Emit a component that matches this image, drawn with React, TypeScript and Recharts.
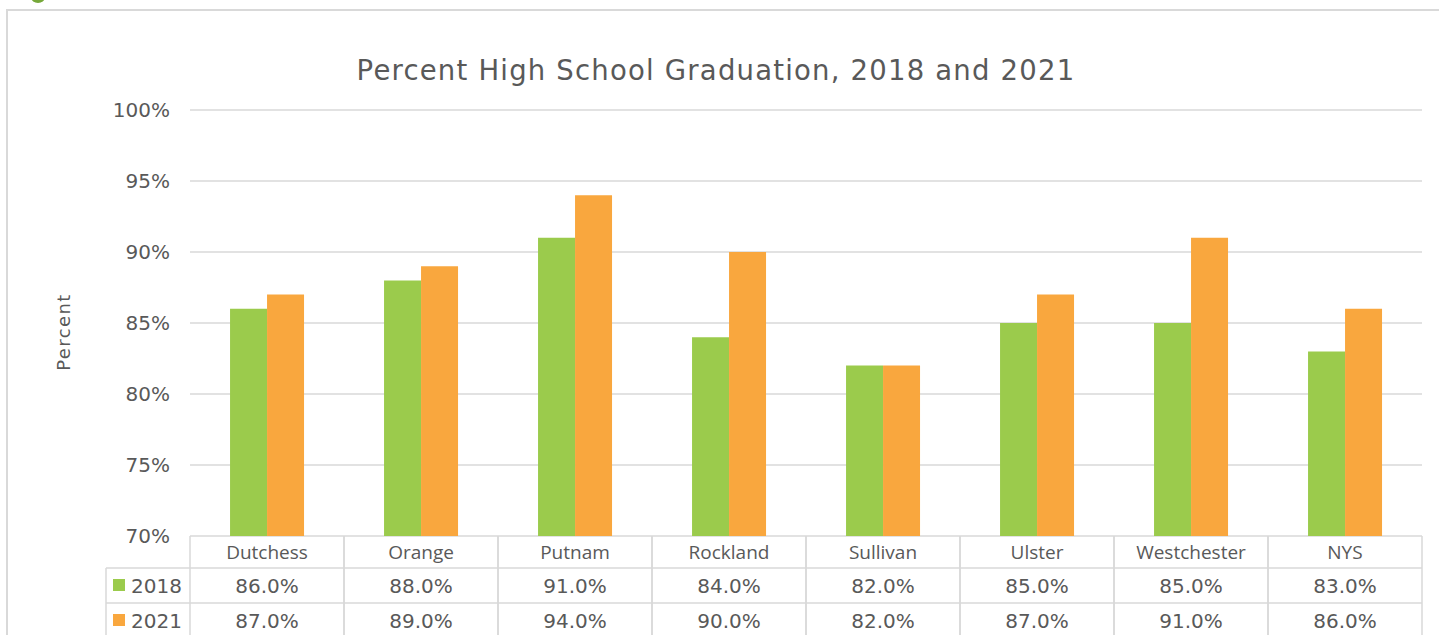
import React from 'react';
import { BarChart, Bar, XAxis, YAxis, CartesianGrid } from 'recharts';

const categories = ['Dutchess', 'Orange', 'Putnam', 'Rockland', 'Sullivan', 'Ulster', 'Westchester', 'NYS'];
const values2018 = [86, 88, 91, 84, 82, 85, 85, 83];
const values2021 = [87, 89, 94, 90, 82, 87, 91, 86];
const yTicks = [70, 75, 80, 85, 90, 95, 100];
const seriesNames = ['2018', '2021'];

const data = categories.map((c, i) => ({ name: c, v2018: values2018[i], v2021: values2021[i] }));

const W = 1439;
const H = 635;
const LEFT = 190;
const RIGHT = 17;
const TOP = 110;
const XAXIS_H = 99;
const PLOT_BOTTOM = H - XAXIS_H;
const BAND = (W - LEFT - RIGHT) / categories.length;
const ROW1 = PLOT_BOTTOM + 32;
const ROW2 = PLOT_BOTTOM + 67;
const LEGEND_LEFT = 106;

const GREEN = '#9BCB4C';
const ORANGE = '#F9A73E';
const TEXT = '#595959';
const GRID = '#d9d9d9';
const FONT = 'Open Sans, sans-serif';
const NUMFONT = 'DejaVu Sans, sans-serif';

const TableTick = (props: any) => {
  const { x, index, payload } = props;
  const l = x - BAND / 2;
  const r = x + BAND / 2;
  return (
    <g>
      <line x1={l} x2={l} y1={PLOT_BOTTOM} y2={H} stroke={GRID} strokeWidth={1.5} />
      <line x1={r} x2={r} y1={PLOT_BOTTOM} y2={H} stroke={GRID} strokeWidth={1.5} />
      <line x1={l} x2={r} y1={ROW1} y2={ROW1} stroke={GRID} strokeWidth={1.5} />
      <line x1={l} x2={r} y1={ROW2} y2={ROW2} stroke={GRID} strokeWidth={1.5} />
      <text x={x} y={PLOT_BOTTOM + 23} textAnchor="middle" fontSize={19} fill={TEXT} fontFamily={FONT}>
        {payload.value}
      </text>
      <text x={x} y={ROW1 + 25} textAnchor="middle" fontSize={20} fill={TEXT} fontFamily={NUMFONT}>
        {values2018[index].toFixed(1) + '%'}
      </text>
      <text x={x} y={ROW2 + 25} textAnchor="middle" fontSize={20} fill={TEXT} fontFamily={NUMFONT}>
        {values2021[index].toFixed(1) + '%'}
      </text>
      {index === 0 && (
        <g>
          <line x1={LEGEND_LEFT} x2={l} y1={ROW1} y2={ROW1} stroke={GRID} strokeWidth={1.5} />
          <line x1={LEGEND_LEFT} x2={l} y1={ROW2} y2={ROW2} stroke={GRID} strokeWidth={1.5} />
          <line x1={LEGEND_LEFT} x2={LEGEND_LEFT} y1={ROW1} y2={H} stroke={GRID} strokeWidth={1.5} />
          <rect x={LEGEND_LEFT + 7} y={ROW1 + 11} width={12} height={12} fill={GREEN} />
          <text x={LEGEND_LEFT + 25} y={ROW1 + 25} fontSize={20} fill={TEXT} fontFamily={NUMFONT}>{seriesNames[0]}</text>
          <rect x={LEGEND_LEFT + 7} y={ROW2 + 11} width={12} height={12} fill={ORANGE} />
          <text x={LEGEND_LEFT + 25} y={ROW2 + 25} fontSize={20} fill={TEXT} fontFamily={NUMFONT}>{seriesNames[1]}</text>
        </g>
      )}
    </g>
  );
};

export default function App() {
  return (
    <div style={{ position: 'absolute', left: 0, top: 0, width: W, height: H, background: '#fff', overflow: 'hidden' }}>
      <svg style={{ position: 'absolute', left: 0, top: 0 }} width={W} height={H}>
        <ellipse cx={38} cy={-3} rx={7} ry={6} fill="#76A83A" />
        <rect x={7} y={10} width={W} height={H} fill="none" stroke={GRID} strokeWidth={2} />
        <text x={716} y={80} textAnchor="middle" fontSize={27.5} letterSpacing={1.2} fill={TEXT} fontFamily={NUMFONT}>
          Percent High School Graduation, 2018 and 2021
        </text>
        <text x={0} y={0} transform="translate(70,332) rotate(-90)" textAnchor="middle" fontSize={18} letterSpacing={1.4} fill={TEXT} fontFamily={NUMFONT}>
          Percent
        </text>
      </svg>
      <div style={{ position: 'absolute', left: 0, top: 0 }}>
        <BarChart width={W} height={H} data={data} margin={{ top: TOP, right: RIGHT, bottom: 0, left: 0 }} barCategoryGap="26%" barGap={0}>
          <CartesianGrid vertical={false} stroke={GRID} strokeWidth={1.5} />
          <YAxis
            width={LEFT}
            domain={[70, 100]}
            ticks={yTicks}
            interval={0}
            allowDataOverflow
            axisLine={false}
            tickLine={false}
            tickSize={0}
            tickMargin={20}
            tickFormatter={(v: number) => v + '%'}
            tick={{ fontSize: 20, fill: TEXT, fontFamily: NUMFONT }}
          />
          <XAxis dataKey="name" height={XAXIS_H} axisLine={false} tickLine={false} interval={0} tick={<TableTick />} />
          <Bar dataKey="v2018" fill={GREEN} isAnimationActive={false} />
          <Bar dataKey="v2021" fill={ORANGE} isAnimationActive={false} />
        </BarChart>
      </div>
    </div>
  );
}
